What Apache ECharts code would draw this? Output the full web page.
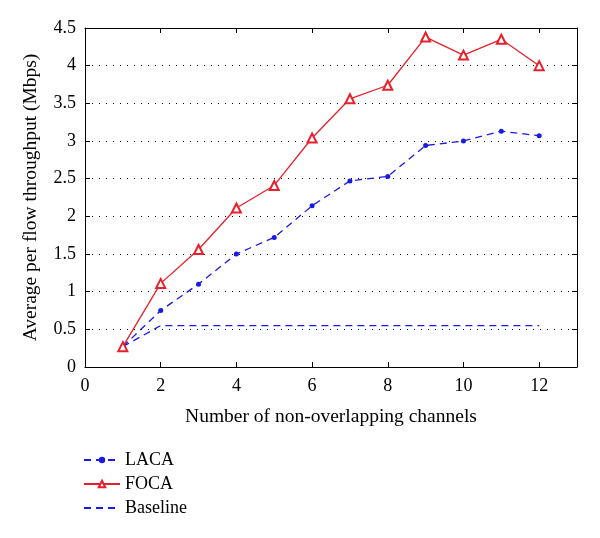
<!DOCTYPE html>
<html><head><meta charset="utf-8">
<script src="https://cdn.jsdelivr.net/npm/echarts@6/dist/echarts.min.js"></script>
<style>html,body{margin:0;padding:0;background:#fff}#c{width:600px;height:538px}</style>
</head><body><div id="c"></div>
<script>
const xValues = [1,2,3,4,5,6,7,8,9,10,11,12];
const laca = [0.27,0.75,1.10,1.50,1.72,2.14,2.47,2.53,2.94,3.00,3.13,3.07];
const foca = [0.27,1.11,1.56,2.11,2.41,3.04,3.56,3.74,4.38,4.14,4.35,4.00];
const baseline = [0.27,0.55,0.55,0.55,0.55,0.55,0.55,0.55,0.55,0.55,0.55,0.55];
const seriesNames = ['LACA','FOCA','Baseline'];

const font = 'Liberation Serif';
const blue = '#1a1ae6';
const red = '#e8202a';
const pair = arr => xValues.map((x,i)=>[x,arr[i]]);

const chart = echarts.init(document.getElementById('c'), null, {renderer:'canvas'});
const axisCommon = {
  axisLine:{show:true,onZero:false,lineStyle:{color:'#000',width:1}},
  axisTick:{show:true,inside:true,length:5,lineStyle:{color:'#000'}},
};
chart.setOption({
  animation:false,
  grid:{left:85,right:23,top:28,bottom:171,containLabel:false},
  legend:{
    orient:'vertical', left:78, top:446, itemGap:6, itemWidth:36, itemHeight:8,
    textStyle:{fontFamily:font,fontSize:18,color:'#000'},
    data:[{name:'LACA'},{name:'FOCA'},{name:'Baseline',itemStyle:{opacity:0}}]
  },
  xAxis:[{
    type:'value',min:0,max:13,interval:2,
    ...axisCommon,
    splitLine:{show:false},
    axisLabel:{fontFamily:font,fontSize:18,color:'#000',margin:10,
      formatter:v=>v>12?'':String(v)},
    name:'Number of non-overlapping channels',nameLocation:'middle',nameGap:40,
    nameTextStyle:{fontFamily:font,fontSize:19.5,color:'#000'}
  },{
    type:'value',min:0,max:13,interval:2,position:'top',
    ...axisCommon,axisLabel:{show:false},splitLine:{show:false}
  }],
  yAxis:[{
    type:'value',min:0,max:4.5,interval:0.5,
    ...axisCommon,
    splitLine:{show:true,lineStyle:{color:'#000',type:[1,6],width:1}},
    axisLabel:{fontFamily:font,fontSize:18,color:'#000',margin:9},
    name:'Average per flow throughput (Mbps)',nameLocation:'middle',nameGap:44,
    nameTextStyle:{fontFamily:font,fontSize:19.5,color:'#000'}
  },{
    type:'value',min:0,max:4.5,interval:0.5,position:'right',
    ...axisCommon,axisLabel:{show:false},splitLine:{show:false}
  }],
  series:[
    {name:'LACA',type:'line',data:pair(laca),symbol:'circle',symbolSize:5,
      lineStyle:{color:blue,width:1.3,type:[7,5]},itemStyle:{color:blue},z:3},
    {name:'FOCA',type:'line',data:pair(foca),symbol:'emptyTriangle',symbolSize:9,
      lineStyle:{color:red,width:1.3},itemStyle:{color:red,borderColor:red,borderWidth:1.2},z:4},
    {name:'Baseline',type:'line',data:pair(baseline),symbol:'none',
      lineStyle:{color:blue,width:1.3,type:[7,5]},itemStyle:{color:blue},z:2}
  ]
});
</script></body></html>
